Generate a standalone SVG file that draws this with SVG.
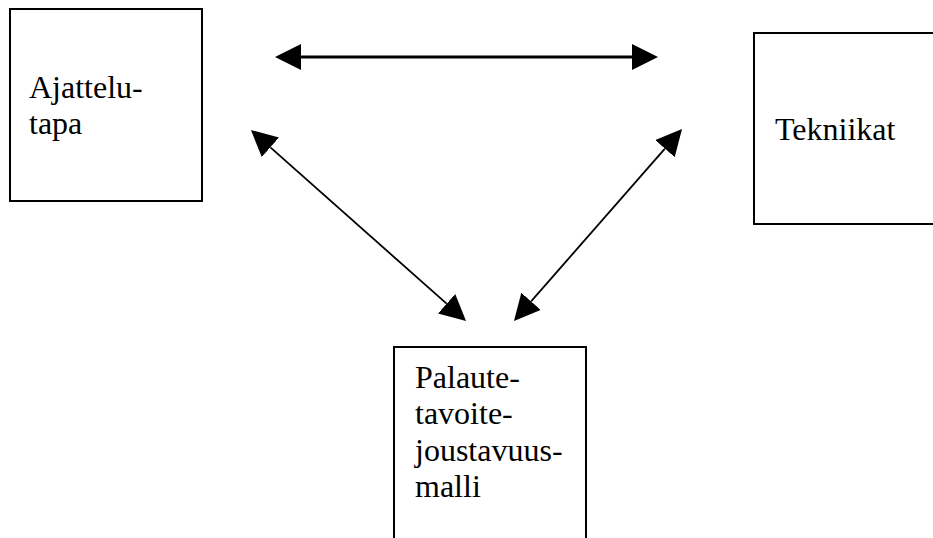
<svg xmlns="http://www.w3.org/2000/svg" width="933" height="538" viewBox="0 0 933 538">
<style>
.box{fill:#fff;stroke:#000;stroke-width:2}
.conn{stroke:#000;fill:none}
.lbl{font-family:'Liberation Serif','Times New Roman',Times,Tinos,'Nimbus Roman','Noto Serif','DejaVu Serif',serif;font-size:32px;fill:#000}
</style>
<defs>
<marker id="ah" viewBox="0 0 26 26" refX="0" refY="13" markerWidth="26" markerHeight="26" markerUnits="userSpaceOnUse" orient="auto-start-reverse">
<path d="M0,0 L26,13 L0,26 z" fill="#000"/>
</marker>
</defs>
<rect width="933" height="538" fill="#fff"/>
<g id="ajattelutapa">
<rect class="box" x="10" y="9" width="192" height="192"/>
<text class="lbl" x="29" y="98">Ajattelu-</text>
<text class="lbl" x="29" y="134">tapa</text>
</g>
<g id="tekniikat">
<rect class="box" x="754" y="33" width="192" height="191"/>
<text class="lbl" x="775" y="140">Tekniikat</text>
</g>
<g id="malli">
<rect class="box" x="394" y="347" width="192" height="192"/>
<text class="lbl" x="415" y="388">Palaute-</text>
<text class="lbl" x="415" y="424">tavoite-</text>
<text class="lbl" x="415" y="461">joustavuus-</text>
<text class="lbl" x="415" y="497">malli</text>
</g>
<g id="connectors">
<line class="conn" x1="301" y1="57" x2="632" y2="57" stroke-width="3" marker-start="url(#ah)" marker-end="url(#ah)"/>
<line class="conn" x1="270.4" y1="147.3" x2="446.6" y2="303.7" stroke-width="1.8" marker-start="url(#ah)" marker-end="url(#ah)"/>
<line class="conn" x1="664.9" y1="148.6" x2="531.1" y2="301.4" stroke-width="1.8" marker-start="url(#ah)" marker-end="url(#ah)"/>
</g>
</svg>
